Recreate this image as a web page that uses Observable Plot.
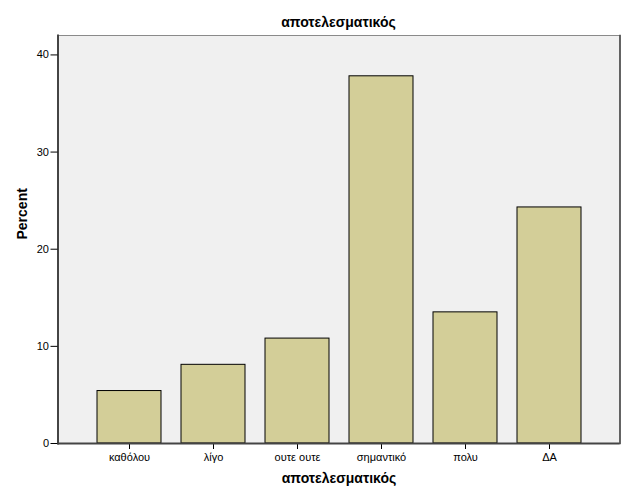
<!DOCTYPE html>
<html><head><meta charset="utf-8">
<script src="https://cdn.jsdelivr.net/npm/d3@7"></script>
<script src="https://cdn.jsdelivr.net/npm/@observablehq/plot@0.6"></script>
<style>
body{margin:0;background:#fff;font-family:"Liberation Sans",Arial,sans-serif;}
#title{height:34px;box-sizing:border-box;padding-top:14px;line-height:16px;text-align:center;font-weight:bold;font-size:14px;color:#000;width:627px;padding-left:50px;}
</style></head><body>
<div id="title">αποτελεσματικός</div>
<div id="chart"></div>
<script>
const categories = ["καθόλου", "λίγο", "ουτε ουτε", "σημαντικό", "πολυ", "ΔΑ"];
const percents = [5.4, 8.1, 10.8, 37.8, 13.5, 24.3];
const yTicks = [0, 10, 20, 30, 40];
const xTitle = "αποτελεσματικός";
const yTitle = "Percent";

const data = categories.map((c, i) => ({cat: c, pct: percents[i]}));

const chart = Plot.plot({
  width: 627,
  height: 468,
  marginLeft: 57.5,
  marginRight: 7.5,
  marginTop: 1,
  marginBottom: 59,
  style: {fontFamily: "'Liberation Sans', Arial, sans-serif", fontSize: "11px", color: "#000", background: "#fff"},
  x: {domain: categories, paddingInner: 0.24, paddingOuter: 0.457, label: null},
  y: {domain: [0, 42], label: null},
  marks: [
    Plot.frame({fill: "#f0f0f0", stroke: "#8a8a8a"}),
    Plot.frame({anchor: "left", stroke: "#444", strokeWidth: 2}),
    Plot.frame({anchor: "right", stroke: "#444", strokeWidth: 1.5}),
    Plot.barY(data, {x: "cat", y: "pct", fill: "#d3ce98", stroke: "#000", strokeWidth: 1}),
    Plot.axisX({tickSize: 6, tickPadding: 4, stroke: "#000", fill: "#000", fontSize: 11}),
    Plot.axisY({ticks: yTicks, tickSize: 7, tickPadding: 2, tickFormat: d => d, fill: "#000", fontSize: 11, label: null}),
    Plot.ruleY([0], {stroke: "#444", strokeWidth: 2}),
    Plot.text([yTitle], {frameAnchor: "left", dx: -35, rotate: -90, fontWeight: "bold", fontSize: 14, fill: "#000"}),
    Plot.text([xTitle], {frameAnchor: "bottom", dy: 39, fontWeight: "bold", fontSize: 14, fill: "#000"})
  ]
});
document.getElementById("chart").appendChild(chart);
</script>
</body></html>
